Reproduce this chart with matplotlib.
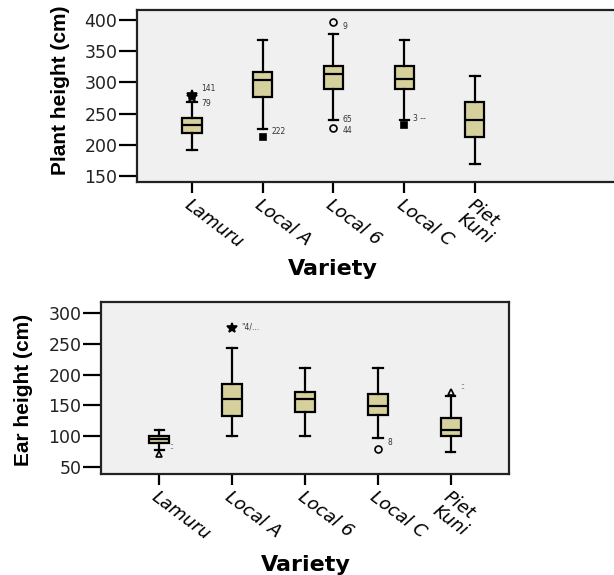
import matplotlib
matplotlib.use("Agg")
import matplotlib.pyplot as plt

# varieties on the x axis
varieties = ["Lamuru", "Local A", "Local 6", "Local C", "Piet\nKuni"]

# plant height (cm) box stats
ph_q1 = [219, 277, 290, 290, 213]
ph_med = [231, 304, 313, 306, 240]
ph_q3 = [243, 317, 327, 327, 269]
ph_lo = [192, 226, 240, 240, 169]
ph_hi = [268, 368, 378, 368, 310]
ph_fliers = [[276, 280], [213], [227, 397], [231], []]
ph_flier_marks = ["*", "s", "o", "s", "o"]
# case number labels next to the outliers and their heights
ph_lab_text = [["141", "79"], ["222"], ["65", "44", "9"], ["3 --"], []]
ph_lab_y = [[291, 266], [222], [241, 223, 389], [242], []]

# ear height (cm)
eh_q1 = [89, 132, 139, 134, 100]
eh_med = [95, 161, 160, 149, 110]
eh_q3 = [101, 184, 171, 168, 130]
eh_lo = [78, 100, 100, 97, 74]
eh_hi = [110, 243, 210, 210, 165]
eh_fliers = [[71], [275], [], [79], [171]]
eh_flier_marks = ["^", "*", "o", "o", "^"]
eh_lab_text = [["::"], ["\"4/..."], [], ["8"], ["::"]]
eh_lab_y = [[84], [277], [], [89], [180]]

box_col = "#d6d09c"
bg_col = "#f0f0f0"


def make_stats(q1, med, q3, lo, hi):
    out = []
    for i in range(len(q1)):
        out.append(dict(q1=q1[i], med=med[i], q3=q3[i], whislo=lo[i],
                        whishi=hi[i], fliers=[]))
    return out


def draw_panel(ax, stats, fliers, marks, lab_text, lab_y, ylabel, ylim,
               yticks, xlim):
    ax.set_facecolor(bg_col)
    pos = list(range(len(varieties)))
    ax.bxp(stats, positions=pos, widths=0.27, capwidths=0.13,
           patch_artist=True, showfliers=False,
           boxprops=dict(facecolor=box_col, edgecolor="black", linewidth=1.6),
           medianprops=dict(color="black", linewidth=1.6),
           whiskerprops=dict(color="black", linewidth=1.6),
           capprops=dict(color="black", linewidth=1.6))
    for i, vals in enumerate(fliers):
        for v in vals:
            filled = marks[i] in ("*", "s")
            ax.plot(pos[i], v, marker=marks[i],
                    ms=7 if marks[i] == "*" else 5,
                    mfc="black" if filled else "none", mec="black", mew=1.2)
        for t, y in zip(lab_text[i], lab_y[i]):
            ax.text(pos[i] + 0.13, y, t, fontsize=5.5, color="#333333",
                    va="center", ha="left")
    ax.set_xlim(*xlim)
    ax.set_ylim(*ylim)
    ax.set_yticks(yticks)
    ax.set_yticklabels([str(t) for t in yticks], fontsize=12.5,
                       family="DejaVu Sans", color="#222222")
    ax.set_xticks(pos)
    ax.set_xticklabels(varieties, fontsize=13, style="italic",
                       family="DejaVu Sans", rotation=-37, ha="left",
                       va="top", rotation_mode="anchor", linespacing=0.95)
    ax.tick_params(axis="y", length=13, width=1.6, pad=1)
    ax.tick_params(axis="x", length=8, width=1.6, pad=2)
    for s in ax.spines.values():
        s.set_linewidth(1.6)
        s.set_color("#222222")
    ax.set_ylabel(ylabel, fontsize=15, fontweight="bold",
                  family=["Liberation Sans Narrow", "Liberation Sans"])
    ax.set_xlabel("Variety", fontsize=16, fontweight="bold",
                  family="DejaVu Sans")


fig = plt.figure(figsize=(6.14, 5.75), dpi=100)

ax1 = fig.add_axes([0.2231, 0.6835, 0.7866, 0.2991])
draw_panel(ax1, make_stats(ph_q1, ph_med, ph_q3, ph_lo, ph_hi),
           ph_fliers, ph_flier_marks, ph_lab_text, ph_lab_y,
           "Plant height (cm)", (140.4, 416),
           [150, 200, 250, 300, 350, 400], (-0.777, 6.05))
ax1.spines["right"].set_visible(False)
ax1.xaxis.set_label_coords((333 - 137) / 483, -0.45)
ax1.yaxis.set_label_coords(-0.139, 0.535)

ax2 = fig.add_axes([0.1645, 0.1757, 0.6645, 0.2991])
draw_panel(ax2, make_stats(eh_q1, eh_med, eh_q3, eh_lo, eh_hi),
           eh_fliers, eh_flier_marks, eh_lab_text, eh_lab_y,
           "Ear height (cm)", (38.6, 317.9),
           [50, 100, 150, 200, 250, 300], (-0.8, 4.8))
ax2.xaxis.set_label_coords((306 - 101) / 408, -0.47)
ax2.yaxis.set_label_coords(-0.167, 0.491)

fig.savefig("out.png", dpi=100)
